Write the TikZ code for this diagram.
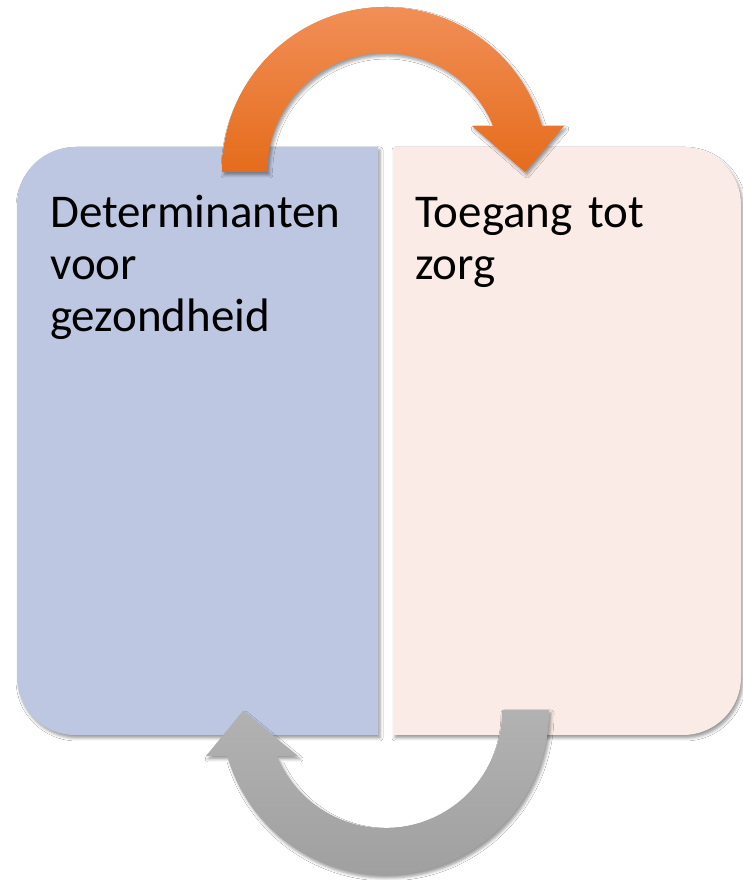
\documentclass[tikz,border=0pt]{standalone}
\usepackage{fontspec}
\setmainfont{Carlito}
\usepackage{tikz}
\usetikzlibrary{shadows.blur}
\definecolor{detblue}{RGB}{189,199,226}
\definecolor{zorgpink}{RGB}{250,235,231}
\definecolor{cycleorangetop}{RGB}{241,143,87}
\definecolor{cycleorangebot}{RGB}{229,108,28}
\definecolor{cyclegreytop}{RGB}{178,178,178}
\definecolor{cyclegreybot}{RGB}{160,160,160}

\begin{document}
\begin{tikzpicture}[x=1pt, y=1pt,
    softshadow/.style={blur shadow={shadow xshift=2pt, shadow yshift=-3pt, shadow blur radius=3pt, shadow opacity=40}},
    boxlabel/.style={anchor=base west, inner sep=0pt, text width=320pt, align=left, font=\fontsize{47}{52}\selectfont}]
    \fill[white] (0,0) rectangle (743,880);
    \useasboundingbox (0,0) rectangle (743,880);

    % twee vlakken
    \fill[detblue, softshadow] (378,145) -- (378,733) -- (75,733) arc[start angle=90, end angle=180, radius=58]
        -- (17,203) arc[start angle=180, end angle=270, radius=58] -- cycle;
    \fill[zorgpink, softshadow] (393,145) -- (393,733) -- (683,733) arc[start angle=90, end angle=0, radius=58]
        -- (741,203) arc[start angle=0, end angle=-90, radius=58] -- cycle;

    \node[boxlabel] (det) at (50,652) {Determinanten\\voor\\gezondheid};
    \node[boxlabel] (zorg) at (415,652) {Toegang tot\\zorg};

    % boog boven: links naar rechts
    \shade[top color=cycleorangetop, bottom color=cycleorangebot, softshadow]
        (222,708) -- (222,710) arc[start angle=180, end angle=15.66, radius=163]
        -- (564,754) -- (525,708) -- (472,754) -- (493,754)
        arc[start angle=22.1, end angle=180, radius=117] -- (268,708) -- cycle;

    % boog onder: rechts naar links
    \shade[top color=cyclegreytop, bottom color=cyclegreybot, softshadow]
        (549,170) -- (549,169) arc[start angle=0, end angle=-164.1, radius=164]
        -- (206,124) -- (243,169) -- (298,124) -- (277,124)
        arc[start angle=-157.4, end angle=0, radius=117] -- (502,170) -- cycle;
\end{tikzpicture}
\end{document}
